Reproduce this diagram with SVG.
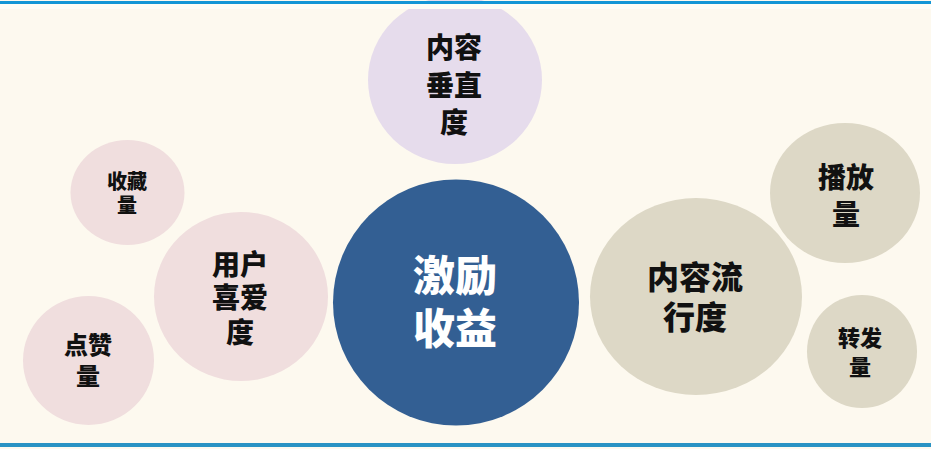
<svg xmlns="http://www.w3.org/2000/svg" width="931" height="449" viewBox="0 0 931 449">
<style>
.t{font-family:"Noto Sans CJK SC","Noto Sans",sans-serif;font-weight:900;text-anchor:middle;fill:#111}
.w{fill:#fff}
.pink{fill:#f0dede}
.lav{fill:#e6dcec}
.beige{fill:#ddd8c6}
.blue{fill:#335f93}
</style>
<rect x="0" y="0" width="931" height="449" fill="#fdf9ef"/>
<g id="connectors"></g>
<g id="node-vertical">
<ellipse class="lav" cx="455" cy="80" rx="87" ry="84"/>
<text class="t" font-size="28"><tspan x="454" y="58">内容</tspan><tspan x="454" y="96">垂直</tspan><tspan x="454" y="133">度</tspan></text>
</g>
<g id="node-collect">
<ellipse class="pink" cx="127.5" cy="192.5" rx="57" ry="52.5"/>
<text class="t" font-size="20"><tspan x="127" y="189">收藏</tspan><tspan x="127" y="213">量</tspan></text>
</g>
<g id="node-like">
<ellipse class="pink" cx="241" cy="296.5" rx="87" ry="84.5"/>
<text class="t" font-size="28"><tspan x="240" y="275">用户</tspan><tspan x="240" y="308">喜爱</tspan><tspan x="240" y="343">度</tspan></text>
</g>
<g id="node-thumb">
<ellipse class="pink" cx="88.5" cy="360.5" rx="65.5" ry="64.5"/>
<text class="t" font-size="24"><tspan x="88" y="354">点赞</tspan><tspan x="88" y="385">量</tspan></text>
</g>
<g id="node-center">
<circle class="blue" cx="456" cy="302.5" r="123"/>
<text class="t w" font-size="42"><tspan x="455" y="291">激励</tspan><tspan x="455" y="344">收益</tspan></text>
</g>
<g id="node-popular">
<ellipse class="beige" cx="696" cy="296.5" rx="106" ry="98.5"/>
<text class="t" font-size="32"><tspan x="695" y="289">内容流</tspan><tspan x="695" y="329">行度</tspan></text>
</g>
<g id="node-play">
<ellipse class="beige" cx="845" cy="193" rx="75" ry="70"/>
<text class="t" font-size="28"><tspan x="846" y="188">播放</tspan><tspan x="846" y="225">量</tspan></text>
</g>
<g id="node-share">
<ellipse class="beige" cx="862" cy="351.5" rx="55" ry="56.5"/>
<text class="t" font-size="22"><tspan x="860" y="346">转发</tspan><tspan x="860" y="375">量</tspan></text>
</g>
<rect x="0" y="1" width="931" height="3" fill="#1396d6"/>
<rect x="0" y="4" width="931" height="5" fill="#fefdf6"/>
<rect x="0" y="443" width="931" height="4" fill="#2a93c4"/>
</svg>
